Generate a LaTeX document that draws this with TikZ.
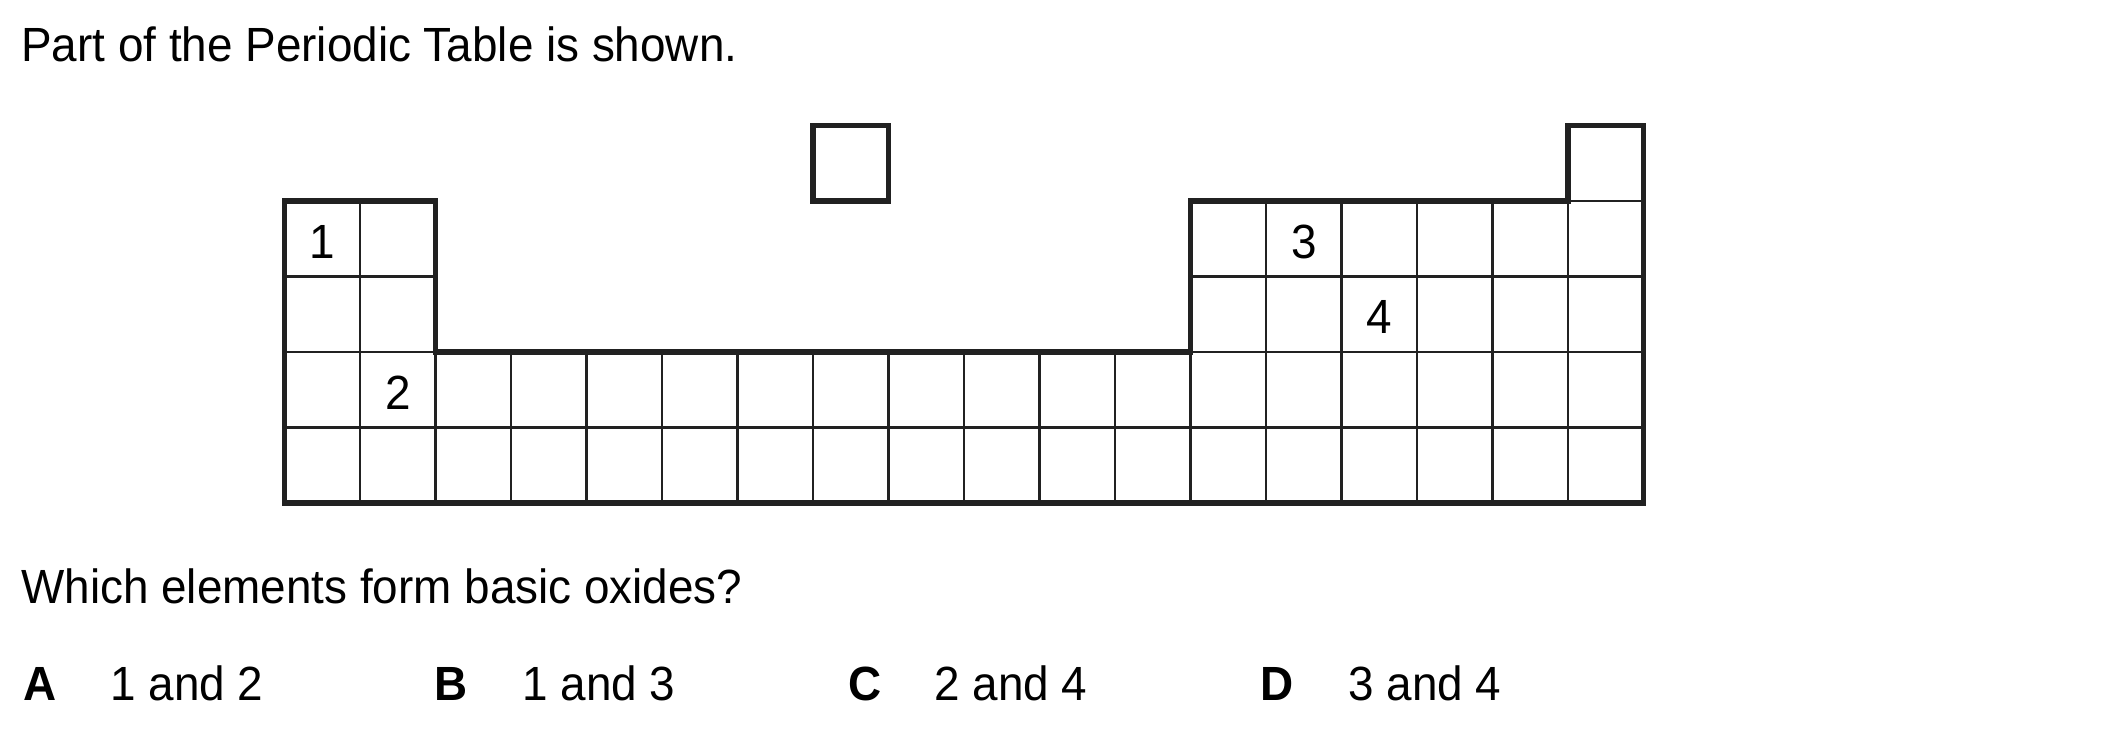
\documentclass[tikz,border=0pt]{standalone}
\usepackage{fontspec}
\setmainfont[FakeStretch=0.955]{Liberation Sans}
\begin{document}
\begin{tikzpicture}[x=0.5pt,y=-0.5pt,
  thinline/.style={line width=1.4pt, draw=black!87},
  thickline/.style={line width=2.6pt, line join=miter, draw=black!87},
  txt/.style={anchor=base west, inner sep=0pt, font=\fontsize{24}{28}\selectfont},
  btxt/.style={txt, font=\fontsize{24}{28}\selectfont\bfseries},
  num/.style={inner sep=0pt, font=\fontsize{24}{28}\selectfont}]
\useasboundingbox (0,0) rectangle (2103,731);
\node[txt] (title) at (21,62) {Part of the Periodic Table is shown.};
\node[txt] (question) at (21,603.5) {Which elements form basic oxides?};
\node[btxt] (la) at (23,700) {A};
\node[txt] (ta) at (110,700) {1 and 2};
\node[btxt] (lb) at (434,700) {B};
\node[txt] (tb) at (522,700) {1 and 3};
\node[btxt] (lc) at (848,700) {C};
\node[txt] (tc) at (934,700) {2 and 4};
\node[btxt] (ld) at (1260,700) {D};
\node[txt] (td) at (1348,700) {3 and 4};
\begin{scope}[shift={(284.5,201)}, x=37.75pt, y=-37.75pt]
  \foreach \r in {0,1} \foreach \c in {0,1,12,13,14,15,16,17}
    \draw[thinline] (\c,\r) rectangle ++(1,1);
  \foreach \r in {2,3} \foreach \c in {0,...,17}
    \draw[thinline] (\c,\r) rectangle ++(1,1);
  \draw[thinline] (17,-1) rectangle (18,0);
  \draw[thickline] (0,0) -- (2,0) -- (2,2) -- (12,2) -- (12,0) -- (17,0) -- (17,-1) -- (18,-1) -- (18,4) -- (0,4) -- cycle;
  \draw[thickline] (7,-1) rectangle (8,0);
  \node[num] (n1) at (0.5,0.54) {1};
  \node[num] (n2) at (1.5,2.54) {2};
  \node[num] (n3) at (13.5,0.54) {3};
  \node[num] (n4) at (14.5,1.54) {4};
\end{scope}
\end{tikzpicture}
\end{document}
